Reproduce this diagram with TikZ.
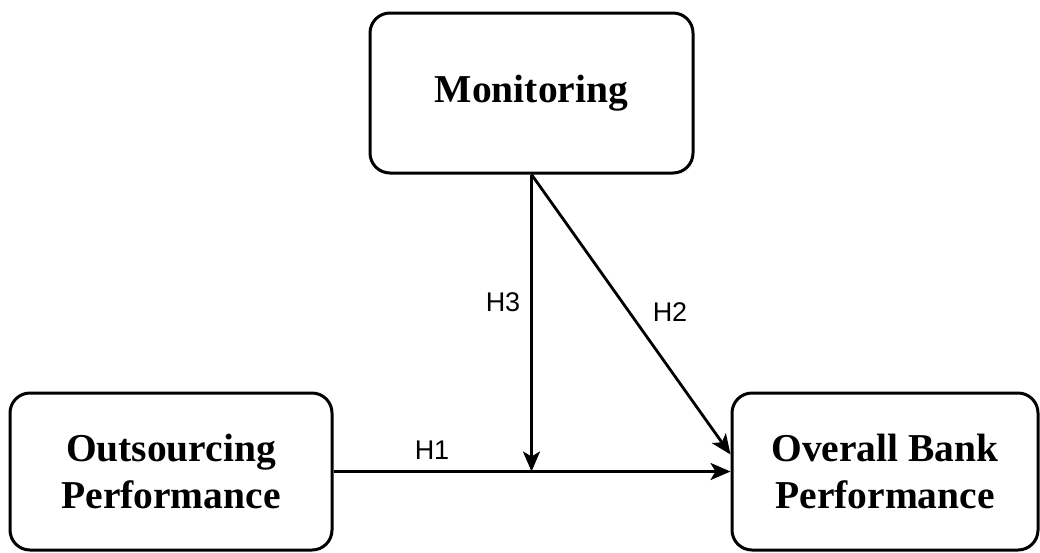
\documentclass[tikz,border=0pt]{standalone}
\usepackage{fontspec}
\setmainfont{Liberation Serif}
\newfontfamily\labelfont{Liberation Sans}
\usetikzlibrary{arrows.meta}
\begin{document}
\begin{tikzpicture}[x=1pt,y=-1pt,
  varbox/.style={draw=black, line width=3pt, rounded corners=20pt, fill=white,
    align=center, font=\fontsize{39.5}{47}\selectfont\bfseries, inner sep=0pt},
  link/.style={line width=2.8pt, -{Stealth[length=20pt,width=17pt,inset=5pt]}},
  hlabel/.style={font=\labelfont\fontsize{27}{30}\selectfont, inner sep=0pt}]
  \useasboundingbox (0,0) rectangle (1040,552);
  \node[varbox, minimum width=323pt, minimum height=160pt] (mon) at (531.5,93) {Monitoring};
  \node[varbox, minimum width=322pt, minimum height=157pt] (out) at (171,471.5) {Outsourcing\\Performance};
  \node[varbox, minimum width=306pt, minimum height=157pt] (ovr) at (885,471.5) {Overall Bank\\Performance};
  \coordinate (j) at (mon.south |- out.east);
  \coordinate (d) at ([yshift=17pt]ovr.west);
  \draw[link] (out.east) -- (ovr.west);
  \draw[link] (mon.south) -- (j);
  \draw[link] (mon.south) -- (d);
  \node[hlabel] (h1) at (432,450) {H1};
  \node[hlabel] (h2) at (670,312) {H2};
  \node[hlabel] (h3) at (503,302) {H3};
\end{tikzpicture}
\end{document}
